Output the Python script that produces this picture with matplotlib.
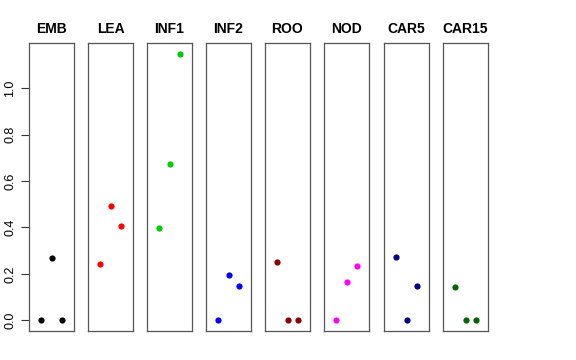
import matplotlib
matplotlib.use("Agg")
import matplotlib.pyplot as plt

plt.rcParams['font.family'] = ['Liberation Sans', 'DejaVu Sans']

tissues = ["EMB", "LEA", "INF1", "INF2", "ROO", "NOD", "CAR5", "CAR15"]
colors = ["#000000", "#FF0000", "#00CD00", "#0000FF", "#8B0000", "#FF00FF", "#00008B", "#006400"]
positions = [1, 2, 3]
values = {
    "EMB":   [0.0, 0.267, 0.0],
    "LEA":   [0.243, 0.491, 0.408],
    "INF1":  [0.399, 0.674, 1.148],
    "INF2":  [0.0, 0.197, 0.147],
    "ROO":   [0.253, 0.0, 0.0],
    "NOD":   [0.0, 0.166, 0.235],
    "CAR5":  [0.272, 0.0, 0.149],
    "CAR15": [0.145, 0.0, 0.0],
}
yticks = [0.0, 0.2, 0.4, 0.6, 0.8, 1.0]
ytick_labels = ["0.0", "0.2", "0.4", "0.6", "0.8", "1.0"]

W, H = 576, 360
fig = plt.figure(figsize=(W / 100, H / 100), dpi=100)

panel_lefts = [29, 88, 147, 206, 265, 324, 384, 443]
panel_w = 45
top, bottom = 43, 331

ymax = 1.148
for i, (t, c) in enumerate(zip(tissues, colors)):
    ax = fig.add_axes([panel_lefts[i] / W, (H - bottom) / H, panel_w / W, (bottom - top) / H])
    ax.scatter(positions, values[t], s=20, color=c, zorder=3, linewidths=0)
    ax.set_xlim(-0.16, 4.16)
    ax.set_ylim(-0.04 * ymax, ymax * 1.04)
    ax.set_xticks([])
    for sp in ax.spines.values():
        sp.set_color("#555555")
        sp.set_linewidth(0.9)
    ax.set_title(t, fontsize=10, fontweight="bold", pad=7)
    if i == 0:
        ax.set_yticks(yticks)
        ax.set_yticklabels(ytick_labels, rotation=90, va="center", fontsize=9)
        ax.tick_params(axis="y", length=6, width=0.8, color="#333333", pad=3)
    else:
        ax.set_yticks([])

fig.savefig("out.png", dpi=100)
